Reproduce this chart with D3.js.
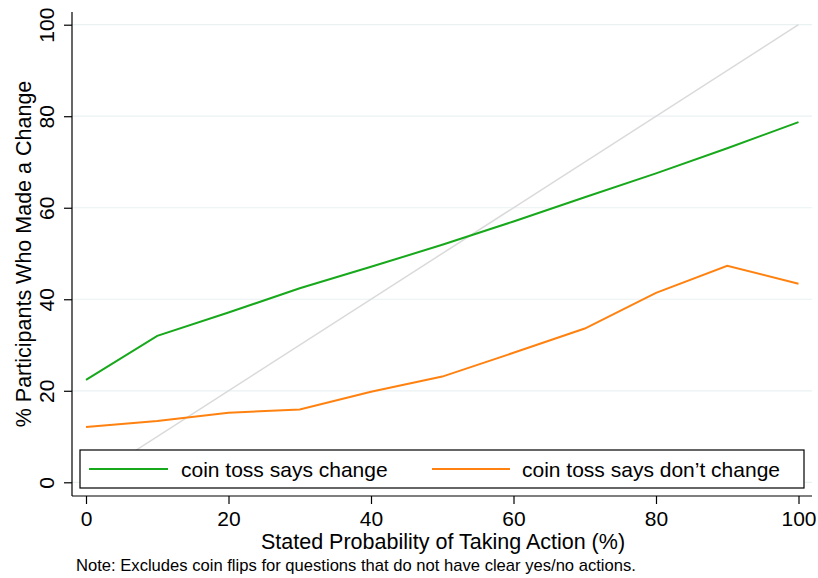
<!DOCTYPE html>
<html lang="en">
<head>
<meta charset="utf-8">
<style>
  body { margin: 0; background: white; }
  svg { font-family: 'Liberation Sans', Arial, sans-serif; background: white; }
  .grid line { stroke: #eaf1f3; stroke-width: 1.2px; }
  .axis path, .axis line { stroke: #000; stroke-width: 1.2px; }
  .axis text { fill: #000; font-size: 21px; }
</style>
</head>
<body>
<svg width="818" height="578"></svg>
<script src="https://d3js.org/d3.v7.min.js"></script>
<script>
  // data
  const probs = [0, 10, 20, 30, 40, 50, 60, 70, 80, 90, 100]
  const saysChange = [22.4, 32.0, 37.1, 42.4, 47.1, 51.9, 57.0, 62.3, 67.5, 73.0, 78.7]
  const saysDontChange = [12.1, 13.4, 15.2, 15.9, 19.8, 23.1, 28.3, 33.6, 41.4, 47.3, 43.4]
  const tickValues = [0, 20, 40, 60, 80, 100]
  const seriesNames = ["coin toss says change", "coin toss says don\u2019t change"]
  const seriesColors = ["#17a81b", "#ff8210"]

  const svg = d3.select("svg")
  const x = d3.scaleLinear().domain([0, 100]).range([86, 798.5])
  const y = d3.scaleLinear().domain([0, 100]).range([482.3, 24.7])
  const plotLeft = 72, plotRight = 812, plotBottom = 496, plotTop = 12

  // gridlines
  svg.append("g").attr("class", "grid")
    .selectAll("line").data(tickValues).join("line")
    .attr("x1", plotLeft).attr("x2", plotRight)
    .attr("y1", d => y(d)).attr("y2", d => y(d))

  // 45 degree reference
  svg.append("path")
    .datum([0, 100])
    .attr("d", d3.line().x(d => x(d)).y(d => y(d)))
    .attr("fill", "none").attr("stroke", "#dadada").attr("stroke-width", 1.5)

  const line = d3.line().x((d, i) => x(probs[i])).y(d => y(d))
  ;[saysChange, saysDontChange].forEach((s, k) => {
    svg.append("path").datum(s)
      .attr("d", line)
      .attr("fill", "none")
      .attr("stroke", seriesColors[k])
      .attr("stroke-width", 2)
  })

  // axes
  const xAxis = svg.append("g").attr("class", "axis")
    .attr("transform", "translate(0," + plotBottom + ")")
    .call(d3.axisBottom(x).tickValues(tickValues).tickSize(8).tickPadding(7).tickSizeOuter(0))
  xAxis.select(".domain").attr("d", "M" + plotLeft + ",0H" + plotRight)

  const yAxis = svg.append("g").attr("class", "axis")
    .attr("transform", "translate(" + plotLeft + ",0)")
    .call(d3.axisLeft(y).tickValues(tickValues).tickSize(8).tickSizeOuter(0))
  yAxis.select(".domain").attr("d", "M0," + plotTop + "V" + plotBottom)
  yAxis.selectAll(".tick text")
    .attr("x", 0).attr("dy", null)
    .attr("text-anchor", "middle")
    .attr("transform", "translate(-18,0) rotate(-90)")

  // legend
  const lg = svg.append("g")
  lg.append("rect").attr("x", 80).attr("y", 450).attr("width", 724).attr("height", 38)
    .attr("fill", "white").attr("stroke", "#000").attr("stroke-width", 1.2)
  const legX = [[89, 168, 181], [432, 510, 522]]
  seriesNames.forEach((n, k) => {
    lg.append("line").attr("x1", legX[k][0]).attr("x2", legX[k][1])
      .attr("y1", 469).attr("y2", 469)
      .attr("stroke", seriesColors[k]).attr("stroke-width", 2)
    lg.append("text").attr("x", legX[k][2]).attr("y", 476.5)
      .attr("font-size", 21).text(n)
  })

  // titles
  svg.append("text").attr("x", 443).attr("y", 549)
    .attr("text-anchor", "middle").attr("font-size", 21.5)
    .text("Stated Probability of Taking Action (%)")
  svg.append("text").attr("transform", "translate(31,254) rotate(-90)")
    .attr("text-anchor", "middle").attr("font-size", 21.5)
    .text("% Participants Who Made a Change")
  svg.append("text").attr("x", 76).attr("y", 571)
    .attr("font-size", 16.6)
    .text("Note: Excludes coin flips for questions that do not have clear yes/no actions.")
</script>
</body>
</html>
